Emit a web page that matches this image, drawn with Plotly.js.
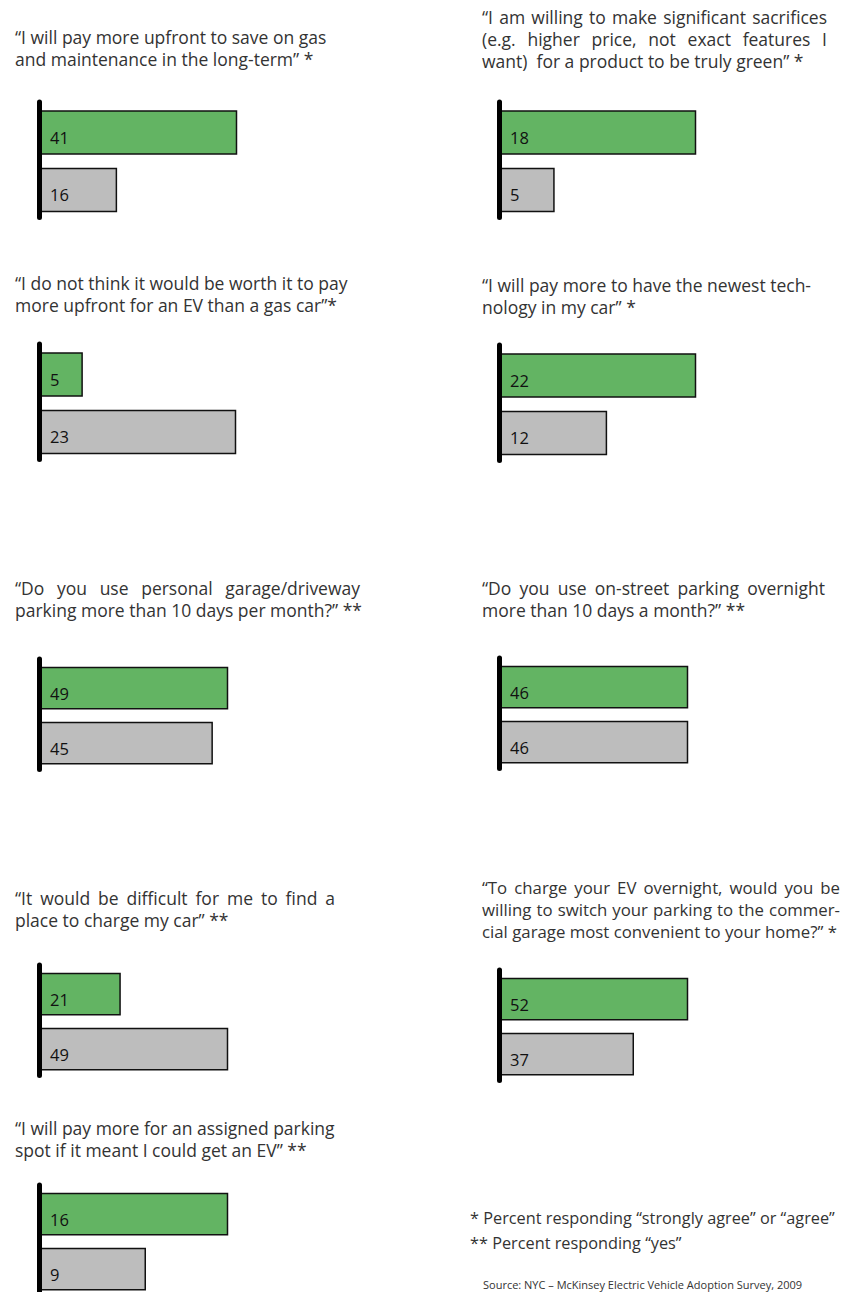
<!DOCTYPE html>
<html>
<head>
<meta charset="utf-8">
<script src="https://cdn.plot.ly/plotly-3.0.1.min.js"></script>
<style>html,body{margin:0;padding:0;background:#fff;}#chart{width:841px;height:1292px;}</style>
</head>
<body>
<div id="chart"></div>
<script>
// ---- data ----
const questionLines = [
  ["“I will pay more upfront to save on gas", "and maintenance in the long-term” *"],
  ["“I am willing to make significant sacrifices", "(e.g. higher price, not exact features I", "want)  for a product to be truly green” *"],
  ["“I do not think it would be worth it to pay", "more upfront for an EV than a gas car”*"],
  ["“I will pay more to have the newest tech-", "nology in my car” *"],
  ["“Do you use personal garage/driveway", "parking more than 10 days per month?” **"],
  ["“Do you use on-street parking overnight", "more than 10 days a month?” **"],
  ["“It would be difficult for me to find a", "place to charge my car” **"],
  ["“To charge your EV overnight, would you be", "willing to switch your parking to the commer-", "cial garage most convenient to your home?” *"],
  ["“I will pay more for an assigned parking", "spot if it meant I could get an EV” **"]
];
const greenValues = [41, 18, 5, 22, 49, 46, 21, 52, 16];
const grayValues  = [16, 5, 23, 12, 45, 46, 49, 37, 9];
const footnotes = ["* Percent responding “strongly agree” or “agree”", "** Percent responding “yes”"];
const sourceText = "Source: NYC – McKinsey Electric Vehicle Adoption Survey, 2009";

// ---- layout geometry (pixels) ----
const W = 841, H = 1292;
// just: right edge (px) of justified title lines, per line index
const geom = [
  {ax: 39.5,  top: 102,  u: 57.5, w: 197, tx: 13,  ty: 37,   fs: 17.5, just: {}},
  {ax: 499.5, top: 102,  u: 57.5, w: 196, tx: 480, ty: 17,   fs: 17.5, just: {0: 825, 1: 825}},
  {ax: 39.5,  top: 344,  u: 57.5, w: 196, tx: 13,  ty: 283,  fs: 17.5, just: {}},
  {ax: 499.5, top: 345,  u: 57.5, w: 196, tx: 480, ty: 285,  fs: 17.5, just: {}},
  {ax: 39.5,  top: 659,  u: 55,   w: 188, tx: 13,  ty: 588,  fs: 17.5, just: {0: 358}},
  {ax: 499.5, top: 658,  u: 55,   w: 188, tx: 480, ty: 588,  fs: 17.5, just: {0: 823}},
  {ax: 39.5,  top: 965,  u: 55,   w: 188, tx: 13,  ty: 898,  fs: 17.5, just: {0: 333}},
  {ax: 499.5, top: 970,  u: 55,   w: 188, tx: 480, ty: 887,  fs: 16.8, just: {0: 838, 1: 838}},
  {ax: 39.5,  top: 1185, u: 55,   w: 188, tx: 13,  ty: 1128, fs: 17.5, just: {}}
];
const GREEN = '#63b463', GRAY = '#bdbdbd';
const FONT = 'Open Sans, Noto Sans, sans-serif';
const LINE_H = 22;
const YTOP = 1.53, YSPAN = 2.01, PAD = 0.04;

const traces = [], annotations = [], shapes = [], justify = [];
const layout = {
  width: W, height: H, margin: {l: 0, r: 0, t: 0, b: 0},
  paper_bgcolor: '#fff', plot_bgcolor: 'rgba(0,0,0,0)',
  showlegend: false, font: {family: FONT, color: '#333'}
};

geom.forEach((g, i) => {
  const n = i === 0 ? '' : String(i + 1);
  const xr = 'x' + n, yr = 'y' + n;
  const maxV = Math.max(greenValues[i], grayValues[i]);
  const bottom = Math.min(g.top + YSPAN * g.u, H);
  layout['xaxis' + n] = {
    domain: [g.ax / W, (g.ax + g.w * (1 + PAD)) / W],
    range: [0, maxV * (1 + PAD)], visible: false, fixedrange: true
  };
  layout['yaxis' + n] = {
    domain: [1 - bottom / H, 1 - g.top / H],
    range: [YTOP - (bottom - g.top) / g.u, YTOP], visible: false, fixedrange: true
  };
  traces.push({
    type: 'bar', orientation: 'h', xaxis: xr, yaxis: yr,
    x: [greenValues[i], grayValues[i]], y: [1, 0], width: 0.75,
    marker: {color: [GREEN, GRAY], line: {color: '#111', width: 1.5}},
    hoverinfo: 'none'
  });
  [greenValues[i], grayValues[i]].forEach((v, k) => {
    annotations.push({
      xref: xr, yref: yr, x: 0, y: 1 - k, text: String(v), showarrow: false,
      xanchor: 'left', yanchor: 'middle', xshift: 8, yshift: -5,
      font: {family: FONT, size: 16.5, color: '#111'}
    });
  });
  // thick left axis line with rounded ends
  shapes.push({
    type: 'line', xref: xr + ' domain', yref: yr + ' domain',
    x0: 0, x1: 0, y0: 0, y1: 1, line: {color: '#000', width: 5}, layer: 'above'
  });
  [0, 1].forEach(end => {
    shapes.push({
      type: 'circle', xref: xr + ' domain', yref: yr + ' domain',
      xsizemode: 'pixel', ysizemode: 'pixel', xanchor: 0, yanchor: end,
      x0: -2.5, x1: 2.5, y0: -2.5, y1: 2.5,
      fillcolor: '#000', line: {width: 0}, layer: 'above'
    });
  });
  questionLines[i].forEach((line, j) => {
    if (g.just[j] !== undefined) justify.push({idx: annotations.length, width: g.just[j] - g.tx});
    annotations.push({
      xref: 'paper', yref: 'paper', x: g.tx / W, y: 1 - (g.ty + j * LINE_H) / H,
      text: line, showarrow: false, xanchor: 'left', yanchor: 'middle', align: 'left',
      font: {family: FONT, size: g.fs, color: '#333'}
    });
  });
});

footnotes.forEach((t, j) => {
  annotations.push({
    xref: 'paper', yref: 'paper', x: 468 / W, y: 1 - (1218 + j * 25) / H,
    text: t, showarrow: false, xanchor: 'left', yanchor: 'middle', align: 'left',
    font: {family: FONT, size: 16.3, color: '#333'}
  });
});
annotations.push({
  xref: 'paper', yref: 'paper', x: 481 / W, y: 1 - 1284 / H,
  text: sourceText, showarrow: false, xanchor: 'left', yanchor: 'middle', align: 'left',
  font: {family: FONT, size: 11, color: '#333'}
});

layout.annotations = annotations;
layout.shapes = shapes;
const gd = document.getElementById('chart');
Plotly.newPlot(gd, traces, layout, {staticPlot: true, displayModeBar: false}).then(() => {
  justify.forEach(({idx, width}) => {
    const grp = gd.querySelector('.annotation[data-index="' + idx + '"]');
    if (!grp) return;
    const t = grp.querySelector('text.annotation-text');
    if (!t) return;
    const spaces = (t.textContent.trim().match(/ +/g) || []).length;
    const extra = width - t.getComputedTextLength();
    if (spaces > 0 && extra > 0) t.style.wordSpacing = (extra / spaces) + 'px';
  });
});
</script>
</body>
</html>
